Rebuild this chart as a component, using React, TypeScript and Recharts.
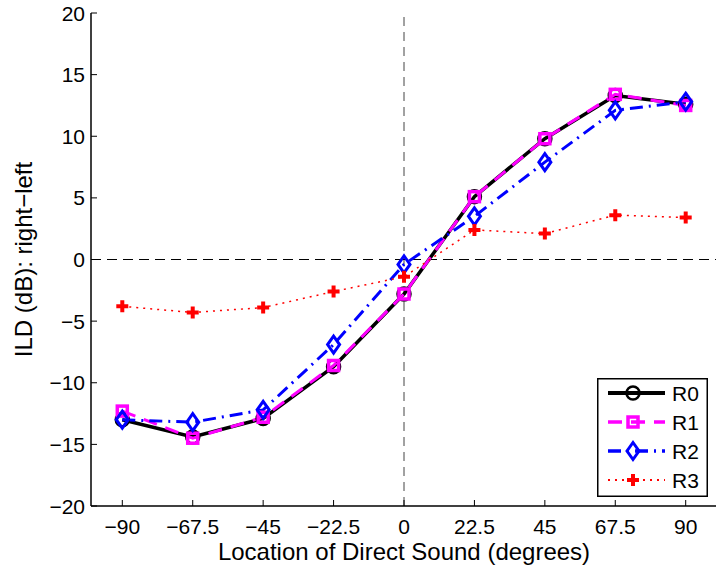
import React from "react";
import { Legend, Line, LineChart, ReferenceLine, XAxis, YAxis } from "recharts";

const directions = [-90, -67.5, -45, -22.5, 0, 22.5, 45, 67.5, 90];
const r0 = [-13.0, -14.4, -12.9, -8.7, -2.8, 5.1, 9.8, 13.3, 12.6];
const r1 = [-12.3, -14.5, -12.8, -8.6, -2.8, 5.1, 9.8, 13.4, 12.5];
const r2 = [-13.0, -13.2, -12.2, -6.9, -0.4, 3.5, 7.9, 12.1, 12.8];
const r3 = [-3.8, -4.3, -3.9, -2.6, -1.4, 2.4, 2.1, 3.6, 3.4];
const yTicks = [-20, -15, -10, -5, 0, 5, 10, 15, 20];
const seriesNames = ["R0", "R1", "R2", "R3"];

const data = directions.map((d, i) => ({ d, R0: r0[i], R1: r1[i], R2: r2[i], R3: r3[i] }));

const FONT = '"Liberation Sans", Arial, Helvetica, sans-serif';
const fmt = (v: number) => (v < 0 ? `\u2212${Math.abs(v)}` : `${v}`);

type MarkerKind = "circle" | "square" | "diamond" | "plus";

const styles: Record<string, { color: string; width: number; dash?: string; marker: MarkerKind }> = {
  R0: { color: "#000000", width: 3.5, marker: "circle" },
  R1: { color: "#ff00ff", width: 3, dash: "14 9", marker: "square" },
  R2: { color: "#0000ff", width: 3, dash: "13 6 2 6", marker: "diamond" },
  R3: { color: "#ff0000", width: 1.5, dash: "2 5", marker: "plus" },
};

function Marker({ kind, cx, cy, color }: { kind: MarkerKind; cx: number; cy: number; color: string }) {
  if (kind === "circle") return <circle cx={cx} cy={cy} r={6.5} fill="none" stroke={color} strokeWidth={2.5} />;
  if (kind === "square")
    return <rect x={cx - 5} y={cy - 5} width={10} height={10} fill="none" stroke={color} strokeWidth={3.5} />;
  if (kind === "diamond")
    return (
      <path
        d={`M${cx},${cy - 8.5} L${cx + 6},${cy} L${cx},${cy + 8.5} L${cx - 6},${cy} Z`}
        fill="none"
        stroke={color}
        strokeWidth={3}
      />
    );
  return (
    <path d={`M${cx - 6},${cy} H${cx + 6} M${cx},${cy - 6} V${cy + 6}`} stroke={color} strokeWidth={4} />
  );
}

const BottomTick = (p: any) => (
  <g>
    <line x1={p.x} y1={p.y} x2={p.x} y2={p.y - 6} stroke="#000" strokeWidth={1} />
    <text x={p.x} y={p.y + 28} textAnchor="middle" fontSize={21} fontFamily={FONT} fill="#000">
      {fmt(p.payload.value)}
    </text>
  </g>
);
const TopTick = (p: any) => <line x1={p.x} y1={p.y} x2={p.x} y2={p.y + 6} stroke="#000" strokeWidth={1} />;
const LeftTick = (p: any) => (
  <g>
    <line x1={p.x} y1={p.y} x2={p.x + 6} y2={p.y} stroke="#000" strokeWidth={1} />
    <text x={p.x - 6} y={p.y + 7.5} textAnchor="end" fontSize={21} fontFamily={FONT} fill="#000">
      {fmt(p.payload.value)}
    </text>
  </g>
);
const RightTick = (p: any) => <line x1={p.x} y1={p.y} x2={p.x - 6} y2={p.y} stroke="#000" strokeWidth={1} />;

function LegendBox() {
  return (
    <svg width={111} height={119} style={{ display: "block" }}>
      <rect x={0.75} y={0.75} width={109.5} height={117.5} fill="#fff" stroke="#000" strokeWidth={1.5} />
      {seriesNames.map((name, i) => {
        const s = styles[name];
        const cy = 15 + i * 29;
        return (
          <g key={name}>
            <line x1={11} y1={cy} x2={68} y2={cy} stroke={s.color} strokeWidth={s.width + 0.5} strokeDasharray={s.dash} />
            <Marker kind={s.marker} cx={36} cy={cy} color={s.color} />
            <text x={75} y={cy + 7.5} fontSize={21} fontFamily={FONT} fill="#000">
              {name}
            </text>
          </g>
        );
      })}
    </svg>
  );
}

export default function App() {
  return (
    <div style={{ position: "absolute", left: 0, top: 0, width: 716, height: 572, overflow: "hidden", background: "#fff" }}>
      <LineChart width={718} height={572} data={data} margin={{ top: 13, right: 1, bottom: 0, left: 0 }}>
        <XAxis
          dataKey="d"
          type="number"
          domain={[-100, 100]}
          ticks={directions}
          interval={0}
          allowDataOverflow
          height={66}
          tickSize={0}
          tickMargin={0}
          tick={BottomTick}
          axisLine={{ stroke: "#000", strokeWidth: 1.5 }}
          label={{ value: "Location of Direct Sound (degrees)", position: "insideBottom", offset: 12, fontSize: 24, fontFamily: FONT, fill: "#000" }}
        />
        <XAxis
          xAxisId="top"
          orientation="top"
          dataKey="d"
          type="number"
          domain={[-100, 100]}
          ticks={directions}
          interval={0}
          height={0}
          tickSize={0}
          tickMargin={0}
          tick={TopTick}
          axisLine={{ stroke: "#000", strokeWidth: 1.5 }}
        />
        <YAxis
          type="number"
          domain={[-20, 20]}
          ticks={yTicks}
          interval={0}
          allowDataOverflow
          width={91}
          tickSize={0}
          tickMargin={0}
          tick={LeftTick}
          axisLine={{ stroke: "#000", strokeWidth: 1.5 }}
          label={{
            value: "ILD (dB): right\u2212left",
            angle: -90,
            position: "insideLeft",
            offset: 23,
            style: { textAnchor: "middle" },
            fontSize: 24,
            fontFamily: FONT,
            fill: "#000",
          }}
        />
        <YAxis
          yAxisId="right"
          orientation="right"
          type="number"
          domain={[-20, 20]}
          ticks={yTicks}
          interval={0}
          width={0}
          tickSize={0}
          tickMargin={0}
          tick={RightTick}
          axisLine={false}
        />
        <ReferenceLine x={0} stroke="#444" strokeWidth={1} strokeDasharray="9 6" />
        <ReferenceLine y={0} stroke="#000" strokeWidth={1} strokeDasharray="10 6" />
        {seriesNames.map((name) => {
          const s = styles[name];
          return (
            <Line
              key={name}
              dataKey={name}
              type="linear"
              stroke={s.color}
              strokeWidth={s.width}
              strokeDasharray={s.dash}
              isAnimationActive={false}
              dot={(p: any) => <Marker key={`${name}-${p.index}`} kind={s.marker} cx={p.cx} cy={p.cy} color={s.color} />}
              activeDot={false}
            />
          );
        })}
        <Legend
          layout="horizontal"
          verticalAlign="middle"
          align="center"
          content={() => <LegendBox />}
          wrapperStyle={{ position: "absolute", left: 597, top: 378, width: 111, height: 119 }}
        />
      </LineChart>
    </div>
  );
}
